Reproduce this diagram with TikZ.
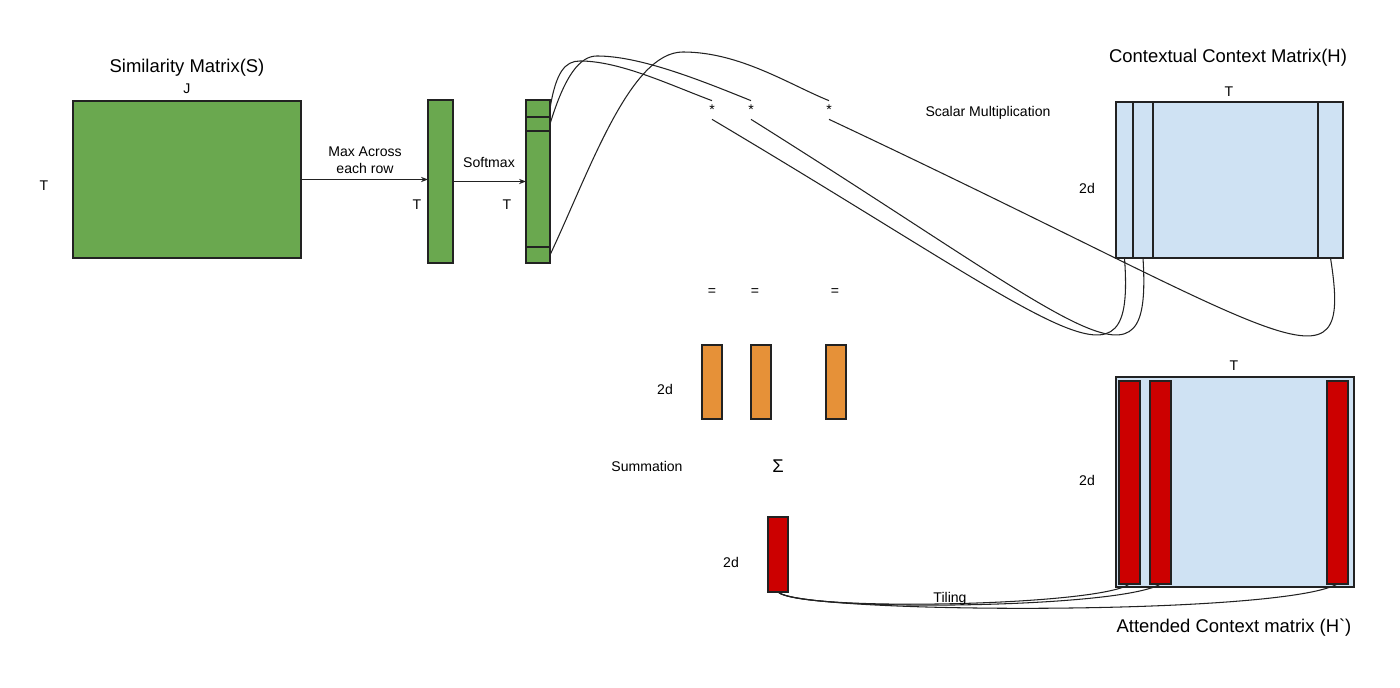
\documentclass[tikz,border=0pt]{standalone}
\usepackage{fontspec}
\setmainfont{Liberation Sans}[Ligatures=TeXOff]
\usetikzlibrary{arrows.meta}
\definecolor{gr}{HTML}{6AA84F}
\definecolor{lb}{HTML}{CFE2F3}
\definecolor{og}{HTML}{E69138}
\definecolor{rd}{HTML}{CC0000}
\definecolor{ln}{HTML}{222222}
\begin{document}
\begin{tikzpicture}[x=0.02cm,y=-0.02cm,
  box/.style={draw=ln, line width=0.6pt, inner sep=0, outer sep=0},
  sz/.style 2 args={minimum width=#1*0.02cm, minimum height=#2*0.02cm},
  lbl/.style={font=\fontsize{8}{9.7}\selectfont, inner sep=0, text=black},
  ttl/.style={font=\fontsize{10.5}{12}\selectfont, inner sep=0, text=black},
  starnode/.style={lbl, minimum height=18*0.02cm, minimum width=6*0.02cm},
  conn/.style={draw=ln, line width=0.6pt},
  arr/.style={conn, -{Stealth[length=4pt,width=3pt]}},
]
\useasboundingbox (0,0) rectangle (1400,688);

% Similarity matrix
\node[box, fill=gr, sz={228}{157}] (S) at (187,179.5) {};
\node[ttl] (tS) at (187,68) {Similarity Matrix(S)};
\node[lbl] (jS) at (187,89) {J};
\node[lbl] (tSl) at (44,186) {T};

% max column
\node[box, fill=gr, sz={25}{163}] (col1) at (440.5,181.5) {};
\node[lbl] (t1) at (417,205) {T};

% softmax column in segments
\node[box, fill=gr, sz={24}{17}] (seg1) at (538,108.5) {};
\node[box, fill=gr, sz={24}{14}] (seg2) at (538,124) {};
\node[box, fill=gr, sz={24}{116}] (seg3) at (538,189) {};
\node[box, fill=gr, sz={24}{16}] (seg4) at (538,255) {};
\node[lbl] (t2) at (507,205) {T};

\draw[arr] (S.east) -- (S.east -| col1.west);
\node[lbl, align=center] (mx) at (365,160) {Max Across\\each row};
\draw[arr] (col1.east) -- (col1.east -| seg3.west);
\node[lbl] (sm) at (489,162) {Softmax};

% stars
\node[starnode] (st1) at (712,110) {\raisebox{-0.06cm}{*}};
\node[starnode] (st2) at (751,110) {\raisebox{-0.06cm}{*}};
\node[starnode] (st3) at (829,110) {\raisebox{-0.06cm}{*}};
\node[lbl] (scal) at (988,113) {Scalar Multiplication};

% contextual matrix H
\node[box, fill=lb, sz={17}{156}] (hc1) at (1124.5,180) {};
\node[box, fill=lb, sz={20}{156}] (hc2) at (1143,180) {};
\node[box, fill=lb, sz={165}{156}] (hmid) at (1235.5,180) {};
\node[box, fill=lb, sz={25}{156}] (hc3) at (1330.5,180) {};
\node[ttl] (tH) at (1228,58) {Contextual Context Matrix(H)};
\node[lbl] (tHT) at (1229,92) {T};
\node[lbl] (tH2d) at (1087,188) {2d};

% curves from softmax to stars
\draw[conn] (seg1.east) .. controls (556,72) and (565,61) .. (580,61)
  .. controls (620,61) and (670,85) .. (st1.north);
\draw[conn] (seg2.east) .. controls (565,75) and (580,56) .. (597,56)
  .. controls (640,56) and (700,80) .. (st2.north);
\draw[conn] (seg4.east) .. controls (590,170) and (630,52) .. (683,52)
  .. controls (740,52) and (790,85) .. (st3.north);

% curves from stars to H columns
\draw[conn] (st1.south) .. controls (1070,332) and (1135,405) .. (hc1.south);
\draw[conn] (st2.south) .. controls (1090,332) and (1152,405) .. (hc2.south);
\draw[conn] (st3.south) .. controls (1290,336) and (1354,405) .. (hc3.south);

% equals and orange vectors
\node[lbl] (eq1) at (712,292) {=};
\node[lbl] (eq2) at (755,292) {=};
\node[lbl] (eq3) at (835,292) {=};
\node[box, fill=og, sz={20}{74}] (o1) at (712,382) {};
\node[box, fill=og, sz={20}{74}] (o2) at (761,382) {};
\node[box, fill=og, sz={20}{74}] (o3) at (836,382) {};
\node[lbl] (o2d) at (665,389) {2d};

\node[lbl] (summ) at (647,466) {Summation};
\node[font=\fontsize{10.5}{12}\selectfont, inner sep=0] (sig) at (778,466) {Σ};

% summed vector
\node[box, fill=rd, sz={20}{75}] (rs) at (778,554.5) {};
\node[lbl] (rs2d) at (731,562) {2d};

% attended matrix
\node[box, fill=lb, sz={238}{210}] (hp) at (1235,482) {};
\node[box, fill=rd, sz={21}{203}] (r1) at (1129.5,482.5) {};
\node[box, fill=rd, sz={21}{203}] (r2) at (1160.5,482.5) {};
\node[box, fill=rd, sz={21}{203}] (r3) at (1337.5,482.5) {};
\node[lbl] (hpT) at (1234,366) {T};
\node[lbl] (hp2d) at (1087,480) {2d};
\node[ttl] (thp) at (1234,628) {Attended Context matrix (H`)};

% tiling
\draw[conn] (rs.south) .. controls (800,612) and (1100,606) .. (r1.south);
\draw[conn] (rs.south) .. controls (800,612) and (1120,609) .. (r2.south);
\draw[conn] (rs.south) .. controls (800,614) and (1280,616) .. (r3.south);
\node[lbl] (til) at (950,599) {Tiling};
\end{tikzpicture}
\end{document}
